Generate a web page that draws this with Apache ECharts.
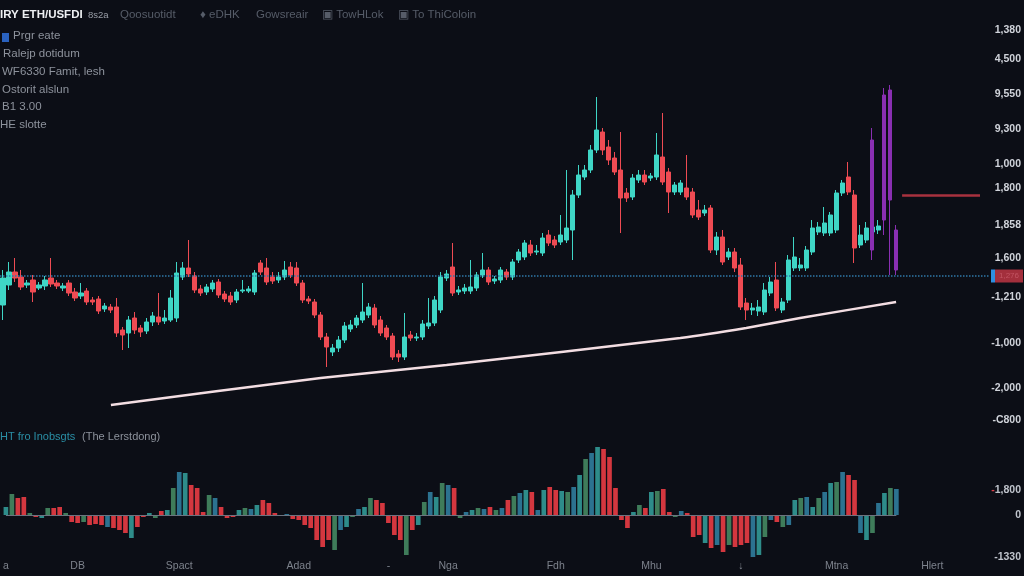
<!DOCTYPE html>
<html><head><meta charset="utf-8">
<script src="https://cdn.jsdelivr.net/npm/echarts@6/dist/echarts.min.js"></script>
<style>html,body{margin:0;padding:0;background:#0c0e16;}#c{width:1024px;height:576px;}</style>
</head><body><div id="c"></div>
<script>
// ---- data (price units: arbitrary chart units) ----
const candles = [
[195,222,180,230],[215,228,210,238],[228,222,218,242],[223,213,210,230],[215,217,212,220],
[220,208,198,225],[212,215,210,218],[214,220,210,224],[222,216,213,242],[217,214,211,220],
[212,214,209,217],[217,207,204,220],[208,202,199,212],[204,207,201,217],[209,198,195,212],
[200,198,195,203],[201,189,186,204],[191,194,188,197],[193,190,187,196],[193,167,163,202],
[170,165,150,173],[167,180,152,184],[182,170,166,188],[172,168,163,175],[169,178,166,182],
[178,184,174,188],[183,178,175,207],[179,182,176,190],[180,202,178,210],[182,227,178,238],
[223,232,220,238],[232,226,223,260],[224,210,207,228],[211,207,204,215],[208,213,205,216],
[211,217,208,220],[218,205,202,221],[206,201,198,209],[204,198,195,208],[200,208,197,211],
[209,210,207,220],[209,211,207,214],[208,227,205,230],[237,228,225,240],[232,218,215,242],
[223,219,216,228],[220,223,217,228],[223,230,220,239],[233,225,222,238],[232,217,214,238],
[217,200,197,220],[201,199,196,204],[198,185,182,201],[185,163,160,188],[163,153,133,167],
[148,152,144,156],[152,160,148,164],[160,174,157,178],[171,175,168,180],[175,182,172,185],
[180,188,177,217],[185,193,182,197],[192,175,172,196],[180,167,164,184],[172,163,160,175],
[164,143,140,167],[146,143,138,150],[143,163,140,187],[165,162,159,169],[162,163,159,167],
[163,176,160,180],[174,177,171,202],[177,200,174,204],[190,223,187,228],[222,226,219,230],
[233,207,204,257],[208,210,205,214],[209,212,206,216],[209,213,206,240],[212,225,209,228],
[225,230,222,247],[230,218,215,233],[219,221,216,224],[220,230,217,233],[228,223,220,231],
[223,238,220,241],[240,248,237,251],[243,257,240,260],[255,247,244,260],[248,249,245,255],
[247,262,244,267],[265,257,254,270],[260,255,252,264],[258,265,255,285],[260,272,257,330],
[270,305,240,310],[305,325,302,335],[323,330,320,335],[330,350,327,355],[350,370,347,403],
[368,350,345,372],[353,340,335,360],[342,328,325,348],[330,302,267,368],[307,302,298,312],
[303,322,300,326],[320,325,317,330],[325,318,315,330],[322,324,319,327],[323,345,320,367],
[343,318,315,387],[328,308,287,332],[308,315,305,318],[308,317,305,320],[312,303,300,345],
[308,285,282,312],[290,283,280,300],[287,290,284,295],[292,250,247,295],[250,263,245,268],
[263,238,235,270],[243,248,240,252],[248,232,228,252],[235,193,190,242],[197,190,180,202],
[190,192,185,197],[189,193,184,200],[188,210,185,217],[207,218,204,223],[220,192,189,238],
[190,198,187,202],[200,240,197,245],[232,243,229,263],[232,235,229,242],[232,250,229,254],
[248,272,245,280],[268,273,265,278],[267,277,264,293],[267,285,264,288],[270,307,267,310],
[307,317,304,320],[323,308,305,338],[305,252,237,310],[255,265,252,275],[260,272,257,278],
[268,273,265,278],[270,274,266,280]
];
const purpleIdx = [145,147,148,149];
const purpleCandles = [[360,250,240,372],[405,280,265,412],[410,300,225,415],[270,230,225,275]];
const trendIdx = [18,53,74,113,124,133,149];
const trendVal = [95,122,135,162,172,182,198];
const hist = [
8,21,17,18,2,-2,-3,7,7,8,2,-7,-8,-7,-10,-9,-10,-12,-13,-15,
-18,-23,-12,-2,2,-3,4,5,27,43,42,30,27,3,20,17,8,-3,-2,5,
7,6,10,15,12,2,-1,1,-4,-5,-10,-13,-25,-32,-25,-35,-15,-12,-2,6,
8,17,15,12,-8,-20,-25,-40,-15,-10,13,23,18,32,30,27,-3,3,5,7,
6,8,5,7,15,19,22,25,23,5,25,28,25,24,23,28,40,56,62,68,
66,58,27,-5,-13,3,10,7,23,24,26,3,-2,4,2,-22,-20,-28,-33,-30,
-37,-30,-32,-30,-28,-42,-40,-22,-5,-7,-12,-10,15,17,18,8,17,23,32,33,
43,40,35,-18,-25,-18,12,22,27,26
];
const supportLevel = 224;
const resistanceLevel = 305;
const resistanceFrom = 150, resistanceTo = 163;
const priceTickValues = [470,441,406,371,336,312,275,242,203,157,112,80];
const priceTickLabels = ['1,380','4,500','9,550','9,300','1,000','1,800','1,858','1,600','-1,210','-1,000','-2,000','-C800'];
const histTickValues = [25,0,-42];
const histTickLabels = ['-1,800','0','-1330'];
const xTickIndex = [0,12,29,49,64,74,92,108,123,139,155];
const xTickLabels = ['a','DB','Spact','Adad','-','Nga','Fdh','Mhu','↓','Mtna','Hlert'];
const N = 165;

// ---- build ----
const cats = []; for (let i = 0; i < N; i++) cats.push('c' + i);
const candleData = cats.map((c, i) => i < candles.length ? candles[i] : '-');
const purpleData = cats.map(() => '-');
purpleIdx.forEach((k, j) => { purpleData[k] = purpleCandles[j]; });
const trendData = cats.map(() => null);
trendIdx.forEach((k, j) => { trendData[k] = trendVal[j]; });
const xLabelMap = {}; xTickIndex.forEach((k, j) => { xLabelMap[k] = xTickLabels[j]; });
const pMap = {}; priceTickValues.forEach((v, j) => { pMap[v] = priceTickLabels[j]; });
const hMap = {}; histTickValues.forEach((v, j) => { hMap[v] = histTickLabels[j]; });

const FONT = '"Liberation Sans", Arial, sans-serif';
const UP = '#3fd6c6', DOWN = '#ef4b53';
const histUp = ['#2e8c8a', '#3f7c5a', '#2c7290'];

const chart = echarts.init(document.getElementById('c'), null, {renderer: 'canvas'});
const gray = '#8d929c', dim = '#565c68';
function txt(text, left, top, fill, font) {
  return {type: 'text', left: left, top: top, silent: true, style: {text: text, fill: fill, font: font || ('11.5px ' + FONT)}};
}
chart.setOption({
  backgroundColor: '#0c0e16',
  animation: false,
  graphic: [
    txt('IRY ETH/USFDI', 0, 9, '#eef0f3', 'bold 11.5px ' + FONT),
    txt('8s2a', 88, 10, '#9a9ea8', '9.5px ' + FONT),
    txt('Qoosuotidt', 120, 9, dim),
    txt('♦ eDHK', 200, 9, dim),
    txt('Gowsreair', 256, 9, dim),
    txt('▣ TowHLok', 322, 9, dim),
    txt('▣ To ThiColoin', 398, 9, dim),
    {type: 'rect', left: 2, top: 33, shape: {width: 7, height: 9}, style: {fill: '#2a62c0'}, silent: true},
    txt('Prgr eate', 13, 30, gray),
    txt('Ralejp dotidum', 3, 48, gray),
    txt('WF6330 Famit, lesh', 2, 66, gray),
    txt('Ostorit alslun', 2, 84, gray),
    txt('B1 3.00', 2, 101, gray),
    txt('HE slotte', 0, 119, gray),
    txt('HT fro Inobsgts', 0, 431, '#2a8fa6', '11px ' + FONT),
    txt('(The Lerstdong)', 82, 431, gray, '11px ' + FONT)
  ],
  grid: [
    {left: 0, right: 34, top: 20, height: 410},
    {left: 0, right: 34, top: 440, height: 118}
  ],
  xAxis: [
    {type: 'category', gridIndex: 0, data: cats, show: false},
    {type: 'category', gridIndex: 1, data: cats,
     axisLine: {show: false, onZero: false}, axisTick: {show: false}, splitLine: {show: false},
     axisLabel: {interval: 0, margin: 3, color: '#7d828c', fontSize: 10.5, fontFamily: FONT,
       formatter: (v, i) => xLabelMap[i] || ''}}
  ],
  yAxis: [
    {type: 'value', gridIndex: 0, position: 'right', min: 70, max: 480, scale: true,
     splitLine: {show: false}, axisLine: {show: false}, axisTick: {show: false},
     axisLabel: {customValues: priceTickValues, align: 'right', margin: 32, color: '#d0d3da',
       fontSize: 10.5, fontWeight: 'bold', fontFamily: FONT, formatter: v => pMap[v] || ''}},
    {type: 'value', gridIndex: 1, position: 'right', min: -43, max: 75,
     splitLine: {show: false}, axisLine: {show: false}, axisTick: {show: false},
     axisLabel: {customValues: histTickValues, align: 'right', margin: 32, color: '#c0c4cc',
       fontSize: 10.5, fontWeight: 'bold', fontFamily: FONT,
       formatter: v => { const s = hMap[v] || ''; return s.startsWith('-1,8') ? '{r|-}' + s.slice(1) : s; },
       rich: {r: {color: '#d8404a', fontSize: 10.5, fontWeight: 'bold'}}}}
  ],
  series: [
    {type: 'candlestick', name: 'ETH', xAxisIndex: 0, yAxisIndex: 0, data: candleData, barWidth: '78%',
     itemStyle: {color: UP, color0: DOWN, borderColor: UP, borderColor0: DOWN, borderWidth: 1},
     markLine: {symbol: 'none', silent: true, animation: false,
       data: [{yAxis: supportLevel}],
       lineStyle: {color: '#2f78a8', type: 'dotted', width: 1.5},
       label: {show: true, position: 'end', distance: 2, formatter: '{b|}{r|1,276}',
         rich: {b: {backgroundColor: '#2f8fe0', width: 4, height: 13},
                r: {backgroundColor: '#a32f3c', color: '#c25462', width: 28, height: 13, fontSize: 8, align: 'center'}}}}},
    {type: 'candlestick', name: 'spike', xAxisIndex: 0, yAxisIndex: 0, data: purpleData, barWidth: 3,
     itemStyle: {color: '#8a2fb2', color0: '#8a2fb2', borderColor: '#8a2fb2', borderColor0: '#8a2fb2', borderWidth: 1}},
    {type: 'line', name: 'trend', xAxisIndex: 0, yAxisIndex: 0, data: trendData, connectNulls: true,
     showSymbol: false, smooth: 0.15, z: 5, lineStyle: {color: '#f3dde2', width: 2.5},
     markLine: {symbol: 'none', silent: true, animation: false, label: {show: false},
       lineStyle: {color: '#a8323f', type: 'solid', width: 2.5},
       data: [[{coord: [resistanceFrom, resistanceLevel]}, {coord: [resistanceTo, resistanceLevel]}]]}},
    {type: 'bar', name: 'hist', xAxisIndex: 1, yAxisIndex: 1, data: hist, barWidth: '78%',
     itemStyle: {color: p => {
       const c = candles[p.dataIndex];
       const up = c ? c[1] >= c[0] : p.value >= 0;
       return up ? histUp[p.dataIndex % 3] : '#d4373f';
     }},
     markLine: {symbol: 'none', silent: true, animation: false, label: {show: false},
       lineStyle: {color: '#6d7380', type: 'solid', width: 1},
       data: [[{coord: [0, 0]}, {coord: [hist.length - 1, 0]}]]}}
  ]
});
</script></body></html>
